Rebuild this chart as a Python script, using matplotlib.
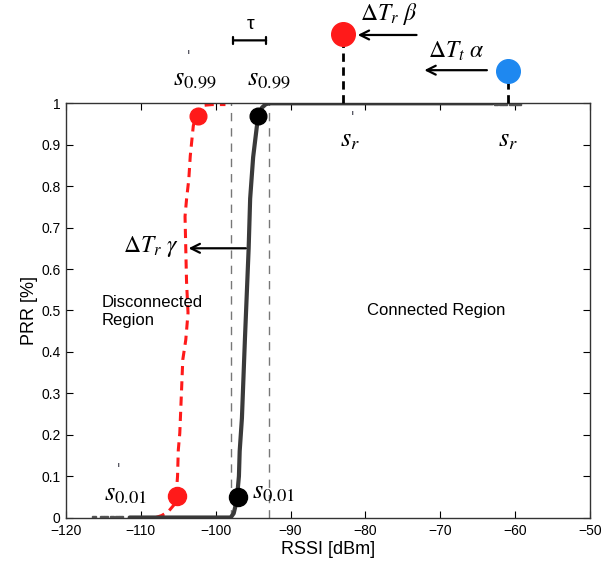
import matplotlib
matplotlib.use("Agg")
import matplotlib.pyplot as plt

# Curva PRR medida (negra) y curva desplazada (roja)
black_x = [-111.5, -105.0, -98.0, -97.6, -97.2, -96.9, -96.8, -96.5, -96.1, -95.6, -95.4,
           -95.0, -94.5, -94.3, -93.8, -93.3, -92.8, -80.0, -70.0, -63.0]
black_y = [0.0, 0.0, 0.0, 0.01, 0.04, 0.1, 0.16, 0.24, 0.43, 0.65, 0.77,
           0.87, 0.945, 0.97, 0.99, 0.998, 1.0, 1.0, 1.0, 1.0]
black_tail_x = [-116.3, -115.2, -114.6, -113.9, -113.2, -112.6, -62.5, -61.9, -61.3, -60.6, -60.0, -59.5]
black_tail_y = [0.0, 0.0, 0.0, 0.0, 0.0, 0.0, 1.0, 1.0, 1.0, 1.0, 1.0, 1.0]

red_x = [-108.0, -107.2, -106.3, -105.6, -105.3, -105.1, -105.0, -104.8, -104.4, -104.0,
         -103.7, -103.9, -104.0, -104.1, -103.9, -103.6, -103.4, -103.0, -102.6, -102.0,
         -101.7, -100.5, -98.7]
red_y = [0.0, 0.005, 0.015, 0.03, 0.05, 0.1, 0.163, 0.204, 0.381, 0.429,
         0.494, 0.57, 0.649, 0.727, 0.768, 0.816, 0.873, 0.945, 0.975, 0.99,
         0.995, 0.997, 0.997]

# Puntos destacados
dots_low_x = [-105.2, -97.0]
dots_low_y = [0.052, 0.05]
dots_high_x = [-102.4, -94.3]
dots_high_y = [0.97, 0.97]
sr_x = [-83.0, -61.0]      # s'_r y s_r
sr_y = [1.167, 1.078]
tau_x = [-98.0, -92.9]     # umbrales s_0.01 / s_0.99 desplazados

xticks = [-120, -110, -100, -90, -80, -70, -60, -50]
yticks = [0, 0.1, 0.2, 0.3, 0.4, 0.5, 0.6, 0.7, 0.8, 0.9, 1]

plt.rcParams['font.family'] = ['Liberation Sans', 'DejaVu Sans']
plt.rcParams['mathtext.fontset'] = 'stix'

fig = plt.figure(figsize=(6.04, 5.64), dpi=100)
ax = fig.add_axes([0.1093, 0.0824, 0.8675, 0.7344])

# lineas verticales grises (tau)
for xv in tau_x:
    ax.plot([xv, xv], [0, 1], color='#777777', lw=1, dashes=(6, 5))

ax.plot(red_x, red_y, color='#ff1a1a', lw=2.2, dashes=(3, 2))
ax.plot(black_x, black_y, color='#3a3a3a', lw=3, solid_capstyle='round')
ax.plot(black_tail_x, black_tail_y, ls='none', marker='s', ms=2.5, color='#555555')

ax.plot(dots_low_x[0], dots_low_y[0], 'o', color='#ff1a1a', ms=13, zorder=5)
ax.plot(dots_low_x[1], dots_low_y[1], 'o', color='black', ms=13, zorder=5)
ax.plot(dots_high_x[0], dots_high_y[0], 'o', color='#ff1a1a', ms=12, zorder=5)
ax.plot(dots_high_x[1], dots_high_y[1], 'o', color='black', ms=12, zorder=5)

# s_r y s'_r fuera de los ejes
for xv, yv, c in zip(sr_x, sr_y, ['#ff1a1a', '#1e88f0']):
    ax.plot([xv, xv], [1, yv], color='black', lw=2, dashes=(3, 2), clip_on=False, zorder=4)
    ax.plot(xv, yv, 'o', color=c, ms=17, clip_on=False, zorder=5)

ap = dict(arrowstyle='->', lw=1.6, color='black', mutation_scale=16)
ax.annotate('', xy=(-81.4, 1.165), xytext=(-72.8, 1.165), arrowprops=ap, annotation_clip=False)
ax.annotate('', xy=(-72.5, 1.08), xytext=(-63.4, 1.08), arrowprops=ap, annotation_clip=False)
ax.annotate('', xy=(-104.0, 0.65), xytext=(-95.6, 0.65), arrowprops=ap)
ax.annotate('', xy=(tau_x[0], 1.152), xytext=(tau_x[1], 1.152),
            arrowprops=dict(arrowstyle='|-|, widthA=0.25, widthB=0.25', lw=1.6, color='black'),
            annotation_clip=False)

ax.text(-76.9, 1.215, r'$\Delta T_r\ \beta$', fontsize=17, ha='center', va='center')
ax.text(-67.8, 1.125, r'$\Delta T_t\ \alpha$', fontsize=17, ha='center', va='center')
ax.text(-105.0, 0.655, r'$\Delta T_r\ \gamma$', fontsize=17, ha='right', va='center')
ax.text(-95.3, 1.19, 'τ', fontsize=14, ha='center', va='center')

# etiquetas s
sk = dict(fontsize=19, ha='center', va='center')
ax.text(-102.8, 1.06, r'$s_{0.99}$', **sk)
ax.text(-92.9, 1.06, r'$s_{0.99}$', **sk)
ax.text(-82.1, 0.912, r'$s_r$', **sk)
ax.text(-61.0, 0.912, r'$s_r$', **sk)
ax.text(-112.1, 0.058, r'$s_{0.01}$', **sk)
ax.text(-92.3, 0.062, r'$s_{0.01}$', **sk)
pk = dict(fontsize=9, ha='center', va='center', color='#223', family='DejaVu Serif')
ax.text(-103.7, 1.112, "'", **pk)
ax.text(-81.7, 0.966, "'", **pk)
ax.text(-113.0, 0.116, "'", **pk)

ax.text(-115.2, 0.497, 'Disconnected\nRegion', fontsize=12, ha='left', va='center', linespacing=1.2)
ax.text(-70.5, 0.50, 'Connected Region', fontsize=12, ha='center', va='center')

ax.set_xlim(-120, -50)
ax.set_ylim(0, 1)
ax.set_xticks(xticks)
ax.set_yticks(yticks)
ax.set_yticklabels(['0', '0.1', '0.2', '0.3', '0.4', '0.5', '0.6', '0.7', '0.8', '0.9', '1'])
ax.tick_params(direction='in', top=True, right=True, length=5, labelsize=10)
ax.tick_params(axis='x', pad=5)
ax.tick_params(axis='y', pad=4)
for s in ax.spines.values():
    s.set_linewidth(1)
    s.set_color('#333333')
ax.set_xlabel('RSSI [dBm]', fontsize=13, labelpad=2)
ax.set_ylabel('PRR [%]', fontsize=13, labelpad=2)

fig.savefig('out.png', dpi=100)
plt.close(fig)
